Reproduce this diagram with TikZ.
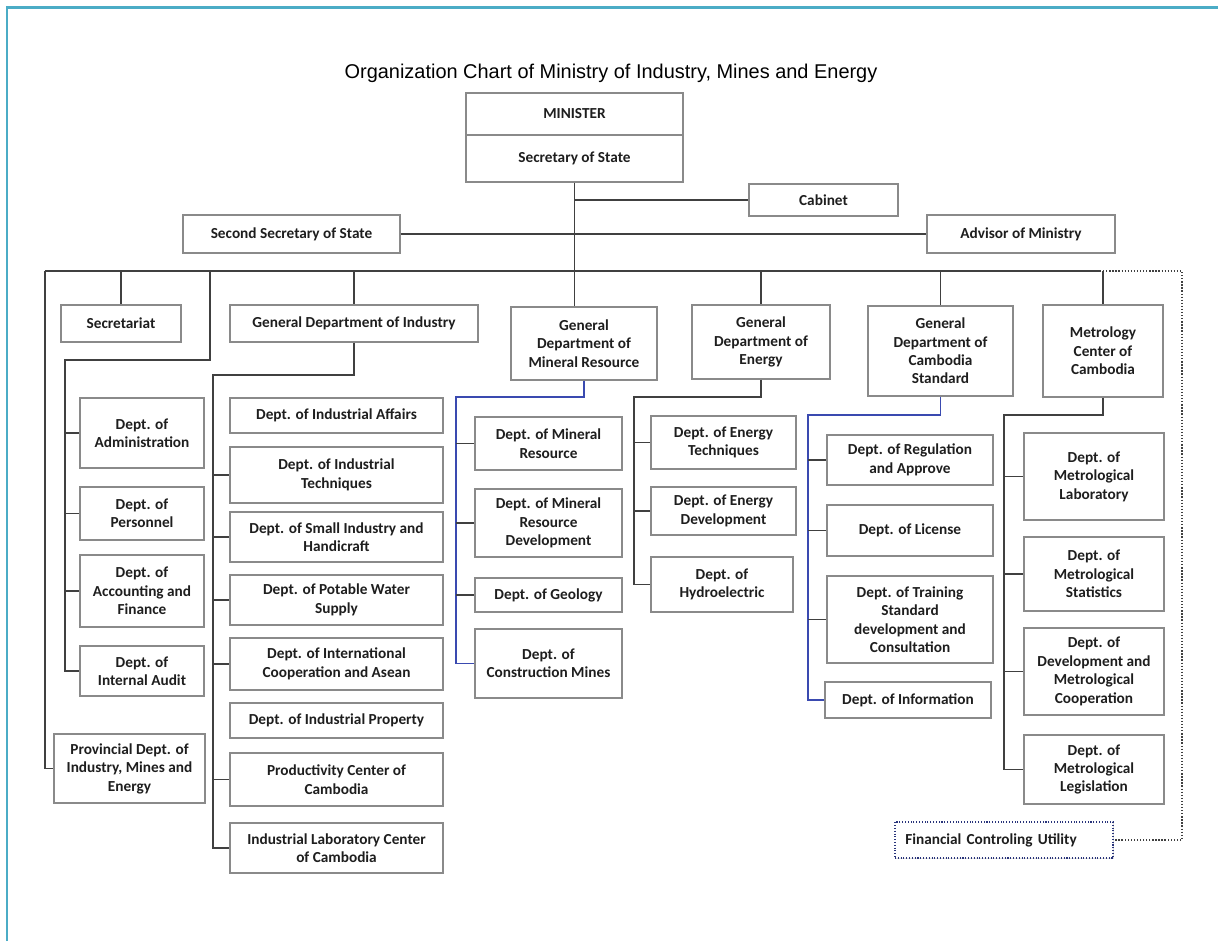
\documentclass[tikz,border=0pt]{standalone}
\usepackage{fontspec}
\setmainfont{Carlito}
\newfontfamily\titlefont{Liberation Sans}
\usepackage{tikz}
\usetikzlibrary{shadows}
\definecolor{framecol}{HTML}{4BACC6}
\definecolor{boxgray}{HTML}{8A8A8A}
\definecolor{linegray}{HTML}{404040}
\definecolor{navy}{HTML}{3A4AB0}
\definecolor{txt}{HTML}{1E1E1E}
\tikzstyle{unit} = [draw=boxgray, line width=0.6pt, fill=white, align=center, text=txt,
                    font=\bfseries\fontsize{8.7}{10.5}\selectfont, inner sep=1pt,
                    drop shadow={shadow xshift=0.8pt, shadow yshift=-0.8pt, opacity=0.25}]
\tikzstyle{link} = [draw=linegray, line width=0.75pt]
\tikzstyle{bluelink} = [draw=navy, line width=0.75pt]
\tikzstyle{dots} = [draw=linegray, densely dotted, line width=0.75pt]
\tikzset{wh/.style 2 args={minimum width=#1*0.02cm, minimum height=#2*0.02cm}}

\begin{document}
\begin{tikzpicture}[x=0.02cm, y=-0.02cm]
				\useasboundingbox (0,0) rectangle (1218,941);
				\draw [framecol, line width=1.7pt] (7,941) -- (7,7) -- (1218,7);

				\node (Title) at (611,73) {\titlefont\fontsize{11.35}{13}\selectfont Organization Chart of Ministry of Industry, Mines and Energy};

				% top of the ministry
				\node (Minister) [unit, wh={217}{42}] at (574.5,114) {MINISTER};
				\node (Secretary) [unit, wh={217}{47}] at (574.5,158.5) {Secretary of State};
				\node (Cabinet) [unit, wh={149}{32}] at (823.5,200) {Cabinet};
				\node (SecondSec) [unit, wh={217}{38}] at (291.5,234) {Second Secretary of State};
				\node (Advisor) [unit, wh={188}{38}] at (1021,234) {Advisor of Ministry};
				\draw [link] (Secretary.south |- Cabinet.west) -- (Cabinet.west);
				\draw [link] (SecondSec.east) -- (Advisor.west);

				% the bus
				\coordinate (BusL) at (45,271);
				\coordinate (BusR) at (1100,271);
				\draw [link] (BusL) -- (BusR);

				% general departments
				\node (Secretariat) [unit, wh={120}{37}] at (121,323.5) {Secretariat};
				\node (GenInd) [unit, wh={248}{37}] at (354,323.5) {General Department of Industry};
				\node (GenMin) [unit, wh={146}{73}] at (584,343.5) {General\\Department of\\Mineral Resource};
				\node (GenEn) [unit, wh={138}{74}] at (761,342) {General\\Department of\\Energy};
				\node (GenStd) [unit, wh={145}{90}] at (940.5,351) {General\\Department of\\Cambodia\\Standard};
				\node (Metro) [unit, wh={120}{92}] at (1103,351) {Metrology\\Center of\\Cambodia};
				\draw [link] (Secretary.south) -- (Secretary.south |- GenMin.north);
				\draw [link] (Secretariat.north |- BusL) -- (Secretariat.north);
				\draw [link] (GenInd.north |- BusL) -- (GenInd.north);
				\draw [link] (GenEn.north |- BusL) -- (GenEn.north);
				\draw [link] (GenStd.north |- BusL) -- (GenStd.north);
				\draw [link] (Metro.north |- BusL) -- (Metro.north);

				% secretariat
				\node (Admin) [unit, wh={124}{70}] at (142,433) {Dept. of\\Administration};
				\node (Personnel) [unit, wh={124}{53}] at (142,513.5) {Dept. of\\Personnel};
				\node (Accounting) [unit, wh={124}{72}] at (142,591) {Dept. of\\Accounting and\\Finance};
				\node (Audit) [unit, wh={124}{50}] at (142,671) {Dept. of\\Internal Audit};
				\node (Provincial) [unit, wh={151}{69}] at (129.5,768.5) {Provincial Dept. of\\Industry, Mines and\\Energy};
				\draw [link] (BusL) -- (BusL |- Provincial.west) -- (Provincial.west);
				\coordinate (SecDrop) at (210,271);
				\coordinate (SecTop) at (65,360);
				\draw [link] (SecDrop) -- (SecDrop |- SecTop) -- (SecTop) -- (SecTop |- Audit.west) -- (Audit.west);
				\draw [link] (SecTop |- Admin.west) -- (Admin.west);
				\draw [link] (SecTop |- Personnel.west) -- (Personnel.west);
				\draw [link] (SecTop |- Accounting.west) -- (Accounting.west);

				% industry
				\node (IndAff) [unit, wh={213}{35}] at (336.5,415.5) {Dept. of Industrial Affairs};
				\node (IndTech) [unit, wh={213}{56}] at (336.5,475) {Dept. of Industrial\\Techniques};
				\node (Small) [unit, wh={213}{50}] at (336.5,537) {Dept. of Small Industry and\\Handicraft};
				\node (Potable) [unit, wh={213}{50}] at (336.5,600) {Dept. of Potable Water\\Supply};
				\node (IntCoop) [unit, wh={213}{52}] at (336.5,664) {Dept. of International\\Cooperation and Asean};
				\node (IndProp) [unit, wh={213}{35}] at (336.5,720.5) {Dept. of Industrial Property};
				\node (Productivity) [unit, wh={213}{53}] at (336.5,779.5) {Productivity Center of\\Cambodia};
				\node (IndLab) [unit, wh={213}{50}] at (336.5,848) {Industrial Laboratory Center\\of Cambodia};
				\coordinate (IndTop) at (213,375);
				\draw [link] (GenInd.south) -- (GenInd.south |- IndTop) -- (IndTop) -- (IndTop |- IndLab.west) -- (IndLab.west);
				\draw [link] (IndTop |- IndTech.west) -- (IndTech.west);
				\draw [link] (IndTop |- Small.west) -- (Small.west);
				\draw [link] (IndTop |- Potable.west) -- (Potable.west);
				\draw [link] (IndTop |- IntCoop.west) -- (IntCoop.west);
				\draw [link] (IndTop |- Productivity.west) -- (Productivity.west);

				% mineral resource
				\node (MinRes) [unit, wh={147}{53}] at (548.5,443.5) {Dept. of Mineral\\Resource};
				\node (MinDev) [unit, wh={147}{68}] at (548.5,523) {Dept. of Mineral\\Resource\\Development};
				\node (Geology) [unit, wh={147}{34}] at (548.5,595) {Dept. of Geology};
				\node (Constr) [unit, wh={147}{69}] at (548.5,663.5) {Dept. of\\Construction Mines};
				\coordinate (MinTop) at (456,397);
				\draw [bluelink] (GenMin.south) -- (GenMin.south |- MinTop) -- (MinTop) -- (MinTop |- Constr.west) -- (Constr.west);
				\draw [link] (MinTop |- MinRes.west) -- (MinRes.west);
				\draw [link] (MinTop |- MinDev.west) -- (MinDev.west);
				\draw [link] (MinTop |- Geology.west) -- (Geology.west);

				% energy
				\node (EnTech) [unit, wh={145}{53}] at (723.5,442.5) {Dept. of Energy\\Techniques};
				\node (EnDev) [unit, wh={145}{48}] at (723.5,511) {Dept. of Energy\\Development};
				\node (Hydro) [unit, wh={142}{55}] at (722,584.5) {Dept. of\\Hydroelectric};
				\coordinate (EnTop) at (634,397);
				\draw [link] (GenEn.south) -- (GenEn.south |- EnTop) -- (EnTop) -- (EnTop |- Hydro.west) -- (Hydro.west);
				\draw [link] (EnTop |- EnTech.west) -- (EnTech.west);
				\draw [link] (EnTop |- EnDev.west) -- (EnDev.west);

				% cambodia standard
				\node (Regul) [unit, wh={166}{50}] at (910,460) {Dept. of Regulation\\and Approve};
				\node (License) [unit, wh={166}{51}] at (910,530.5) {Dept. of License};
				\node (Training) [unit, wh={166}{87}] at (910,619.5) {Dept. of Training\\Standard\\development and\\Consultation};
				\node (Info) [unit, wh={166}{36}] at (908,700) {Dept. of Information};
				\coordinate (StdTop) at (808,415);
				\draw [bluelink] (GenStd.south) -- (GenStd.south |- StdTop) -- (StdTop) -- (StdTop |- Info.west) -- (Info.west);
				\draw [link] (StdTop |- Regul.west) -- (Regul.west);
				\draw [link] (StdTop |- License.west) -- (License.west);
				\draw [link] (StdTop |- Training.west) -- (Training.west);

				% metrology
				\node (MetLab) [unit, wh={140}{87}] at (1094,476.5) {Dept. of\\Metrological\\Laboratory};
				\node (MetStat) [unit, wh={140}{74}] at (1094,574) {Dept. of\\Metrological\\Statistics};
				\node (MetDev) [unit, wh={140}{87}] at (1094,671.5) {Dept. of\\Development and\\Metrological\\Cooperation};
				\node (MetLeg) [unit, wh={140}{69}] at (1094,769.5) {Dept. of\\Metrological\\Legislation};
				\coordinate (MetTop) at (1004,415);
				\draw [link] (Metro.south) -- (Metro.south |- MetTop) -- (MetTop) -- (MetTop |- MetLeg.west) -- (MetLeg.west);
				\draw [link] (MetTop |- MetLab.west) -- (MetLab.west);
				\draw [link] (MetTop |- MetStat.west) -- (MetStat.west);
				\draw [link] (MetTop |- MetDev.west) -- (MetDev.west);

				% financial control
				\node (FCU) [unit, dots, draw=navy!70!black, wh={218}{36}, text width=3.95cm, align=left, inner xsep=0.2cm] at (1004,840) {Financial Controling Utility};
				\coordinate (DotCorner) at (1182,271);
				\draw [dots] (BusR) -- (DotCorner) -- (DotCorner |- FCU.east) -- (FCU.east);
			\end{tikzpicture}
\end{document}
